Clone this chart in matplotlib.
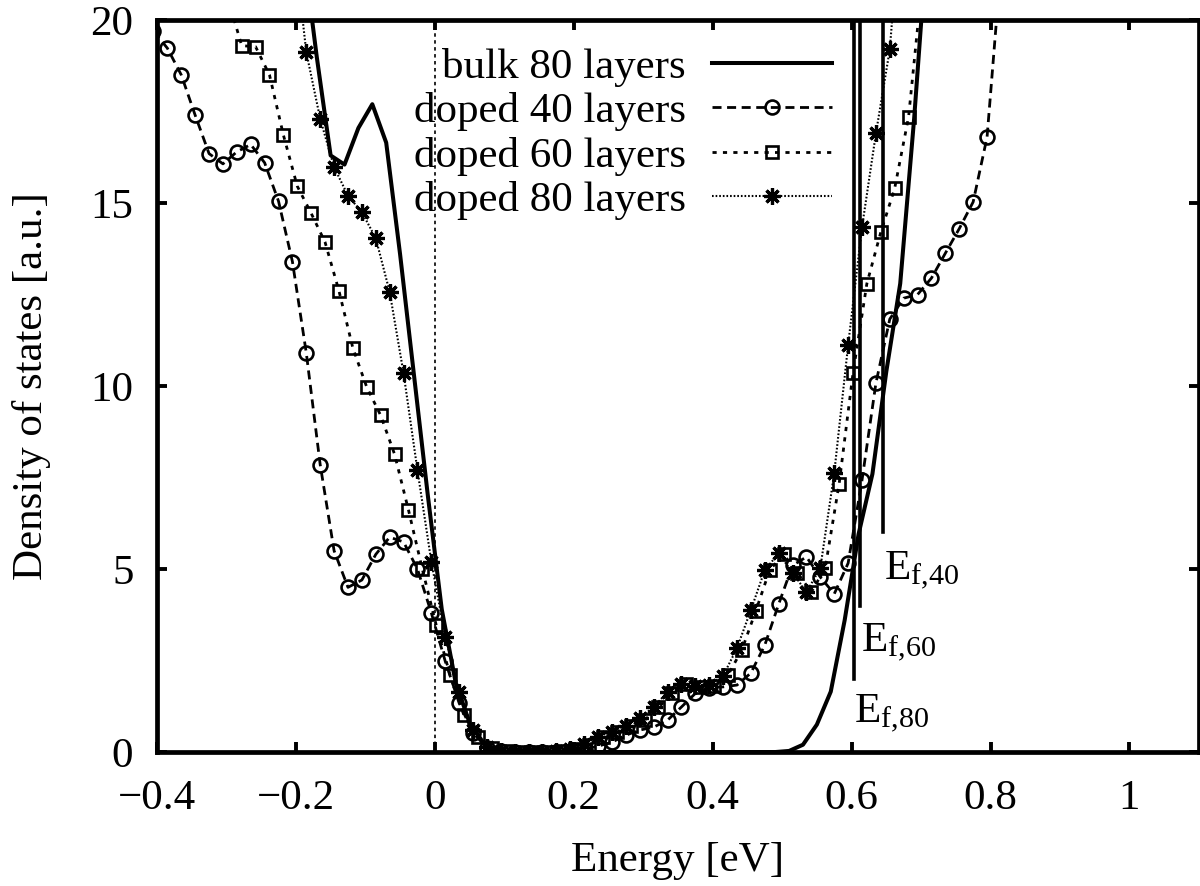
import matplotlib
matplotlib.use('Agg')
import matplotlib.pyplot as plt
from matplotlib.ticker import FuncFormatter
import numpy as np

plt.rcParams['font.family'] = ['Liberation Serif', 'DejaVu Serif']
plt.rcParams['mathtext.fontset'] = 'custom'
plt.rcParams['mathtext.rm'] = 'Liberation Serif'
plt.rcParams['mathtext.it'] = 'Liberation Serif:italic'
plt.rcParams['lines.scale_dashes'] = False

# energy grids [eV]
e_bulk = np.round(np.arange(-0.19, 0.7201, 0.02), 3)
e_40 = np.round(np.arange(-0.405, 0.8151, 0.02), 3)
e_60 = np.round(np.arange(-0.298, 0.7021, 0.02), 3)
e_80 = np.round(np.arange(-0.205, 0.6751, 0.02), 3)

# density of states [a.u.]
dos_bulk = [22.0, 19.0, 16.3, 16.05, 17.05, 17.7, 16.65, 13.6, 10.3, 7.0,
            3.9, 1.9, 0.8, 0.25, 0.05, 0.0,
            0, 0, 0, 0, 0, 0, 0, 0, 0, 0, 0, 0, 0, 0, 0, 0, 0, 0, 0,
            0.03, 0.2, 0.75, 1.65, 3.6, 5.95, 7.6, 10.4, 12.8, 17.3, 22.5]
dos_40 = [19.7, 19.23, 18.5, 17.4, 16.35, 16.07, 16.4, 16.6, 16.1, 15.05,
          13.4, 10.9, 7.85, 5.5, 4.5, 4.7, 5.4, 5.87, 5.74, 5.0,
          3.8, 2.48, 1.34, 0.52, 0.12, 0.03, 0.01, 0.0, 0.0, 0.01,
          0.03, 0.08, 0.16, 0.27, 0.46, 0.6, 0.68, 0.87, 1.23, 1.6,
          1.75, 1.78, 1.83, 2.16, 2.92, 4.04, 5.1, 5.33, 4.78, 4.32,
          5.16, 7.43, 10.08, 11.83, 12.4, 12.5, 12.95, 13.63, 14.3, 15.03,
          16.8, 21.5]
dos_60 = [20.6, 19.3, 19.27, 18.5, 16.86, 15.46, 14.72, 13.93, 12.6, 11.04,
          9.97, 9.2, 8.14, 6.62, 5.0, 3.47, 2.1, 1.0, 0.4, 0.1,
          0.02, 0.0, 0.0, 0.0, 0.02, 0.07, 0.2, 0.4, 0.55, 0.7,
          0.87, 1.22, 1.6, 1.85, 1.78, 1.8, 2.1, 2.79, 3.85, 4.97,
          5.4, 4.9, 4.37, 5.03, 7.32, 10.35, 12.8, 14.2, 15.4, 17.35,
          21.1]
dos_80 = [22.5, 19.12, 17.3, 15.98, 15.2, 14.75, 14.04, 12.57, 10.35, 7.7,
          5.2, 3.15, 1.64, 0.6, 0.15, 0.03, 0.0, 0.0, 0.0, 0.02,
          0.08, 0.22, 0.42, 0.56, 0.72, 0.93, 1.23, 1.64, 1.85, 1.8,
          1.83, 2.08, 2.84, 3.88, 4.97, 5.43, 4.9, 4.37, 5.03, 7.62,
          11.12, 14.34, 16.9, 19.2, 24.0]

# Fermi levels
ef_names = ['80', '60', '40']
ef_pos = [0.603, 0.612, 0.645]
ef_bottom = [2.0, 4.0, 6.0]
ef_label_y = [0.8, 2.75, 4.7]

fs = 31
fig = plt.figure(figsize=(12, 8.86), dpi=100)
ax = fig.add_axes([0.1308, 0.1512, 0.8683, 0.8262])

ax.axvline(0, color='black', lw=1.2, dashes=(2.5, 2.5), zorder=1)

ax.plot(e_bulk, dos_bulk, color='black', lw=2.9, label='bulk 80 layers')
ax.plot(e_40, dos_40, color='black', lw=2.0, dashes=(6.5, 4), marker='o',
        ms=10, mfc='none', mew=1.9, label='doped 40 layers')
ax.plot(e_60, dos_60, color='black', lw=2.0, dashes=(3, 4.5), marker='s',
        ms=9, mfc='none', mew=1.9, label='doped 60 layers')
ax.plot(e_80, dos_80, color='black', lw=1.5, dashes=(1.2, 1.4), marker=(8, 2, 0),
        ms=12, mew=2.3, label='doped 80 layers')

for name, x, yb, yl in zip(ef_names, ef_pos, ef_bottom, ef_label_y):
    ax.plot([x, x], [yb, 20], color='black', lw=2.6)
    ax.text(x + 0.001, yl, r'E$_{\mathrm{f{,}%s}}$' % name, fontsize=fs,
            ha='left', va='baseline')

ax.set_xlim(-0.4, 1.1)
ax.set_ylim(0, 20)
ax.set_xticks([-0.4, -0.2, 0, 0.2, 0.4, 0.6, 0.8, 1.0])
ax.set_yticks([0, 5, 10, 15, 20])
ax.xaxis.set_major_formatter(FuncFormatter(lambda v, p: ('%g' % round(v, 2)).replace('-', '\u2212')))
ax.yaxis.set_major_formatter(FuncFormatter(lambda v, p: '%g' % v))
ax.tick_params(direction='in', length=7, width=2.8, top=True, right=True,
               labelsize=fs)
ax.tick_params(axis='x', pad=20)
ax.tick_params(axis='y', pad=17)
for s in ax.spines.values():
    s.set_linewidth(3.4)

ax.set_xlabel('Energy [eV]', fontsize=fs, labelpad=17)
ax.set_ylabel('Density of states [a.u.]', fontsize=fs, labelpad=28)

ax.legend(loc='upper right', bbox_to_anchor=(0.648, 0.962), frameon=False,
          markerfirst=False, fontsize=fs, handlelength=2.8,
          handletextpad=0.6, labelspacing=0.12, borderpad=0, borderaxespad=0)

fig.savefig('out.png', dpi=100)
